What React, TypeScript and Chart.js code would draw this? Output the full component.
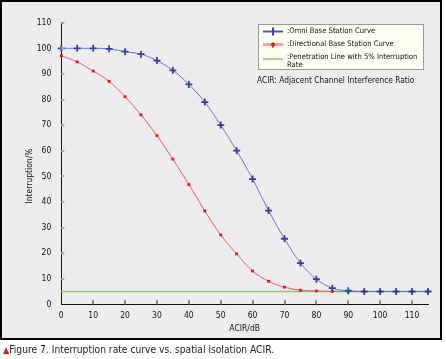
import React, { useEffect, useRef } from "react";
import { Chart, registerables } from "chart.js";

Chart.register(...registerables);

const acir = [0, 5, 10, 15, 20, 25, 30, 35, 40, 45, 50, 55, 60, 65, 70, 75, 80, 85, 90, 95, 100, 105, 110, 115];
const omniValues = [100, 100, 100, 99.8, 98.7, 97.7, 95.2, 91.4, 85.9, 79, 70, 60, 48.9, 36.6, 25.6, 16.1, 9.8, 6.3, 5.3, 5, 5, 5, 5, 5];
const directionalValues = [97.1, 94.7, 91.1, 87.1, 81.1, 74, 65.9, 56.7, 46.8, 36.5, 27.1, 19.7, 13, 9, 6.7, 5.5, 5.2, 5, 5, 5, 5, 5, 5, 5];
const penetrationX = [0, 115];
const penetrationValues = [5, 5];
const xTickValues = [0, 10, 20, 30, 40, 50, 60, 70, 80, 90, 100, 110];
const yTickValues = [0, 10, 20, 30, 40, 50, 60, 70, 80, 90, 100, 110];
const seriesLabels = [
  ":Omni Base Station Curve",
  ":Directional Base Station Curve",
  ":Penetration Line with 5% Interruption Rate",
];
const yTitle = "Interruption/%";
const xTitle = "ACIR/dB";
const noteText = "ACIR: Adjacent Channel Interference Ratio";
const captionText = "Figure 7. Interruption rate curve vs. spatial isolation ACIR.";

const FONT = "'Liberation Sans Narrow', 'DejaVu Sans Condensed', sans-serif";

const decorPlugin = {
  id: "decor",
  afterDraw(chart: any) {
    const { ctx, scales } = chart;
    const x = scales.x;
    const y = scales.y;
    ctx.save();
    // inner tick marks
    ctx.strokeStyle = "#8a8a8a";
    ctx.lineWidth = 2;
    ctx.beginPath();
    xTickValues.forEach((v) => {
      if (v === 0) return;
      const px = Math.round(x.getPixelForValue(v));
      ctx.moveTo(px, y.bottom);
      ctx.lineTo(px, y.bottom - 4);
    });
    ctx.stroke();
    ctx.strokeStyle = "#a8a8a8";
    ctx.beginPath();
    yTickValues.forEach((v) => {
      if (v === 0) return;
      const py = Math.round(y.getPixelForValue(v));
      ctx.moveTo(x.left, py);
      ctx.lineTo(x.left + 3, py);
    });
    ctx.stroke();

    // y title
    ctx.fillStyle = "#111";
    ctx.font = `8.5px ${FONT}`;
    ctx.textAlign = "center";
    ctx.textBaseline = "middle";
    ctx.save();
    ctx.translate(30, 176);
    ctx.rotate(-Math.PI / 2);
    ctx.fillText(yTitle, 0, 0);
    ctx.restore();

    // legend box
    const bx = 258, by = 24, bw = 165, bh = 45;
    ctx.fillStyle = "#fffff2";
    ctx.fillRect(bx, by, bw, bh);
    ctx.strokeStyle = "#9a9a9a";
    ctx.lineWidth = 1;
    ctx.strokeRect(bx + 0.5, by + 0.5, bw, bh);

    const ds = chart.data.datasets;
    const rows = [31.5, 44.5, 57];
    ctx.textBaseline = "middle";
    ctx.textAlign = "left";
    // row 1 omni
    ctx.strokeStyle = "#4a5ab0";
    ctx.lineWidth = 2;
    ctx.beginPath();
    ctx.moveTo(263, rows[0]);
    ctx.lineTo(283, rows[0]);
    ctx.stroke();
    ctx.strokeStyle = ds[0].pointBorderColor;
    ctx.beginPath();
    ctx.moveTo(273, rows[0] - 4);
    ctx.lineTo(273, rows[0] + 4);
    ctx.stroke();
    // row 2 directional
    ctx.strokeStyle = "#f4a4a8";
    ctx.lineWidth = 3;
    ctx.beginPath();
    ctx.moveTo(263, rows[1]);
    ctx.lineTo(283, rows[1]);
    ctx.stroke();
    ctx.fillStyle = ds[1].pointBackgroundColor;
    ctx.fillRect(272, rows[1] - 2, 2, 5);
    ctx.fillRect(271, rows[1] - 1, 4, 2);
    // row 3 penetration
    ctx.strokeStyle = "#a8d890";
    ctx.lineWidth = 2;
    ctx.beginPath();
    ctx.moveTo(263, rows[2] + 2);
    ctx.lineTo(283, rows[2] + 2);
    ctx.stroke();

    ctx.fillStyle = "#111";
    ctx.font = `7.6px ${FONT}`;
    ds.forEach((d: any, i: number) => {
      const words = d.label.split(" ");
      const lines: string[] = [];
      let cur = "";
      words.forEach((w: string) => {
        const t = cur ? cur + " " + w : w;
        if (ctx.measureText(t).width > 132 && cur) {
          lines.push(cur);
          cur = w;
        } else cur = t;
      });
      lines.push(cur);
      lines.forEach((l, k) => ctx.fillText(l, 287, rows[i] + k * 8.5));
    });

    ctx.font = `8.3px ${FONT}`;
    ctx.fillText(noteText, 257, 81);
    ctx.restore();
  },
};

export default function App() {
  const ref = useRef<HTMLCanvasElement>(null);
  useEffect(() => {
    document.body.style.margin = "0";
    const chart = new Chart(ref.current as HTMLCanvasElement, {
      type: "line",
      data: {
        datasets: [
          {
            label: seriesLabels[0],
            data: acir.map((a, i) => ({ x: a, y: omniValues[i] })),
            borderColor: "#6676c4",
            borderWidth: 1,
            pointStyle: "cross",
            pointRadius: 3.5,
            pointBorderWidth: 1.8,
            pointBorderColor: "#34449e",
            pointBackgroundColor: "#34449e",
            cubicInterpolationMode: "monotone",
            clip: false,
            order: 1,
          },
          {
            label: seriesLabels[1],
            data: acir.map((a, i) => ({ x: a, y: directionalValues[i] })),
            borderColor: "#f05a5a",
            borderWidth: 1,
            pointStyle: "rect",
            pointRadius: 2,
            pointBorderWidth: 0,
            pointBorderColor: "#e01818",
            pointBackgroundColor: "#e01818",
            cubicInterpolationMode: "monotone",
            clip: false,
            order: 2,
          },
          {
            label: seriesLabels[2],
            data: penetrationX.map((a, i) => ({ x: a, y: penetrationValues[i] })),
            borderColor: "#90cc60",
            borderWidth: 1.5,
            pointRadius: 0,
            clip: false,
            order: 3,
          },
        ],
      },
      options: {
        responsive: false,
        animation: false,
        events: [],
        layout: { padding: { left: 0, right: 18, top: 22.7, bottom: 22.7 } },
        plugins: { legend: { display: false }, tooltip: { enabled: false } },
        scales: {
          x: {
            type: "linear",
            min: 0,
            max: 115,
            grid: { display: false, drawTicks: false },
            border: { display: true, color: "#111", width: 1 },
            ticks: {
              stepSize: 10,
              includeBounds: false,
              padding: 6,
              color: "#111",
              font: { family: FONT, size: 8.5 },
              maxRotation: 0,
            },
            title: {
              display: true,
              text: xTitle,
              color: "#111",
              font: { family: FONT, size: 8.5 },
              padding: { top: 0, bottom: 2 },
            },
            afterFit: (s: any) => {
              s.height = 32;
            },
          },
          y: {
            type: "linear",
            min: 0,
            max: 110,
            grid: { display: false, drawTicks: false },
            border: { display: true, color: "#111", width: 1 },
            ticks: {
              stepSize: 10,
              padding: 10,
              color: "#111",
              font: { family: FONT, size: 8.5 },
            },
            afterFit: (s: any) => {
              s.width = 61.3;
            },
          },
        },
      },
      plugins: [decorPlugin],
    } as any);
    return () => chart.destroy();
  }, []);

  return (
    <div style={{ position: "relative", width: 446, height: 359, background: "#fff", overflow: "hidden" }}>
      <div
        style={{
          position: "absolute",
          left: 0,
          top: 0,
          width: 442,
          height: 340,
          border: "2px solid #000",
          boxSizing: "border-box",
          background: "#efecf0",
        }}
      />
      <canvas
        ref={ref}
        width={446}
        height={359}
        style={{ position: "absolute", left: 0, top: 0, width: 446, height: 359 }}
      />
      <div
        style={{
          position: "absolute",
          left: 3,
          top: 343,
          fontFamily: FONT,
          fontSize: 10.2,
          color: "#222",
          whiteSpace: "nowrap",
          lineHeight: "13px",
        }}
      >
        <span style={{ color: "#d42020", fontSize: 9 }}>▲</span>
        {captionText}
      </div>
    </div>
  );
}
